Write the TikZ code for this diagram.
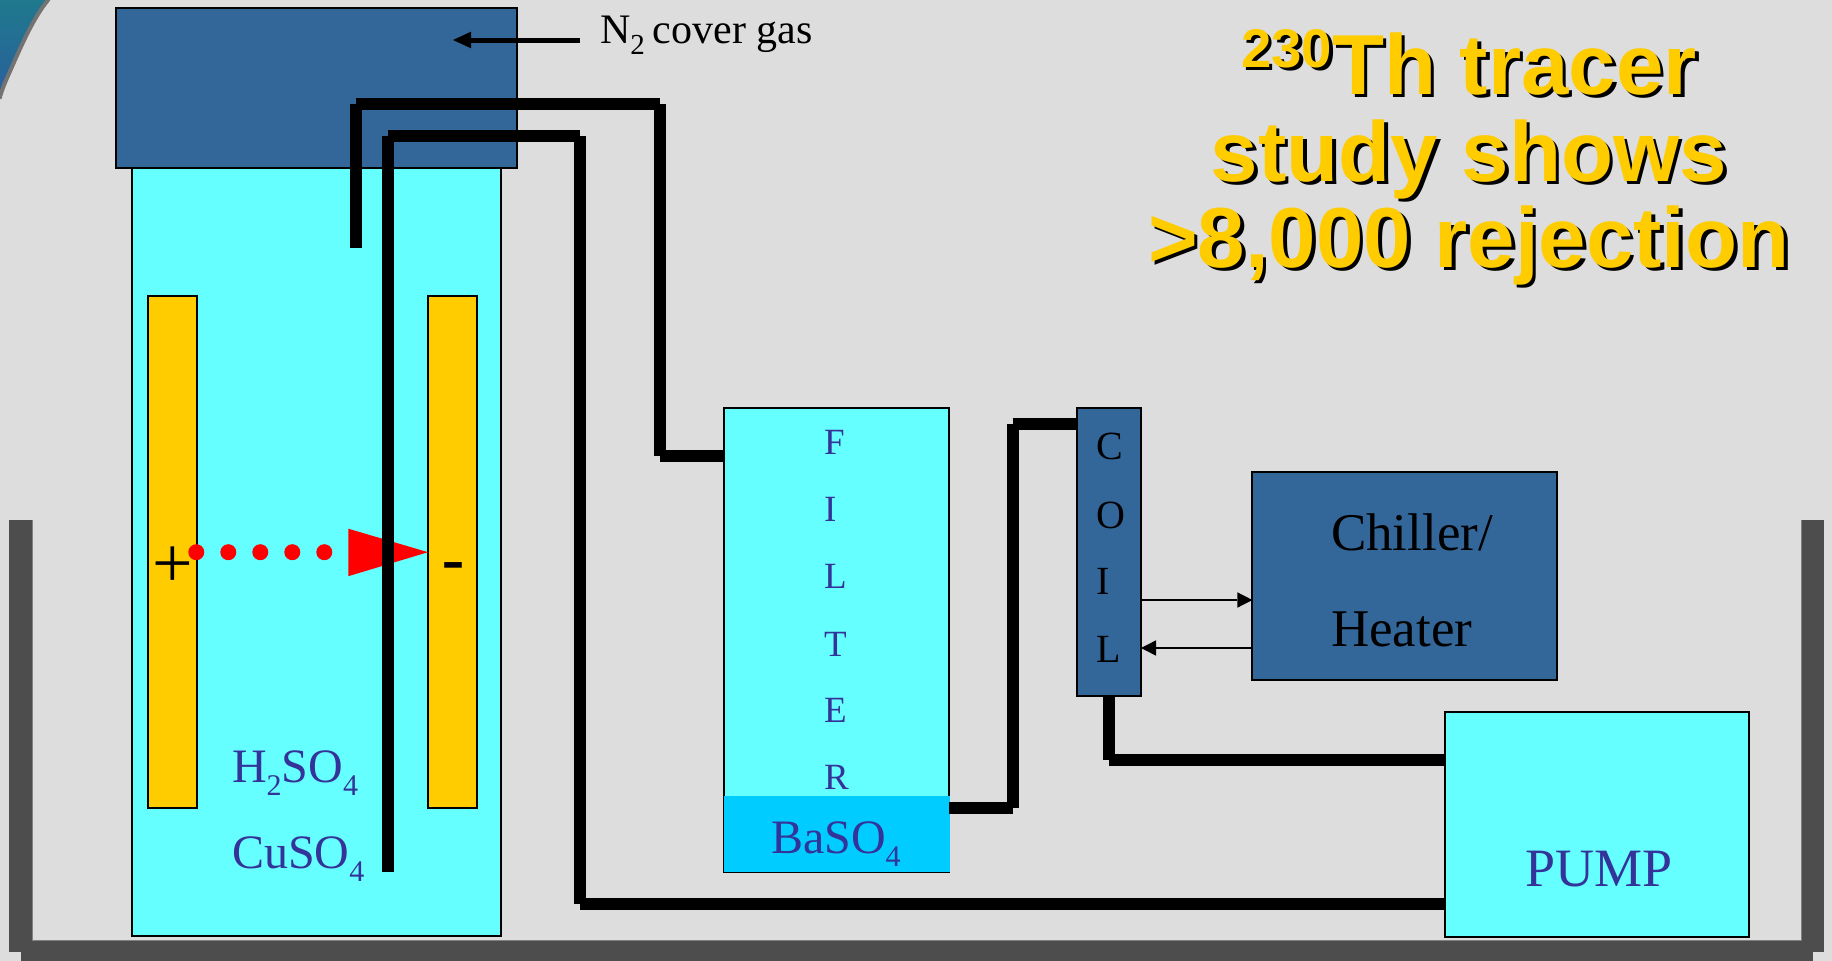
\documentclass[tikz,border=0pt]{standalone}
\usepackage{fontspec}
\setmainfont{Liberation Serif}
\setsansfont{Liberation Sans}
\definecolor{bgc}{HTML}{DDDDDD}
\definecolor{steel}{HTML}{336699}
\definecolor{aqua}{HTML}{66FFFF}
\definecolor{sky}{HTML}{00CCFF}
\definecolor{gold}{HTML}{FFCC00}
\definecolor{ink}{HTML}{333399}
\definecolor{wallc}{HTML}{4D4D4D}
\definecolor{tealA}{HTML}{1E7A8C}
\definecolor{tealB}{HTML}{2A5F9E}
\newcommand{\fs}[1]{\fontsize{#1}{#1}\selectfont}
\newcommand{\dn}[3]{\raisebox{-#1pt}{\fs{#2}#3}}
\newcommand{\titleone}{\raisebox{27pt}{\fs{54.5}230}Th tracer}
\tikzset{
  box/.style={draw=black,line width=2pt,inner sep=0pt,outer sep=0pt},
  lbl/.style={anchor=base west,inner sep=0pt,outer sep=0pt},
  pipe/.style={draw=black,line width=12pt,line cap=butt},
  wall/.style={draw=wallc,line width=23pt,line cap=butt},
  thin arrow/.style={draw=black,line width=1.6pt},
  tip/.style={fill=black,draw=none},
  ion/.style={circle,fill=red,draw=none,minimum size=16pt,inner sep=0pt},
  titletext/.style={anchor=base,inner sep=0pt,font=\sffamily\bfseries\fs{85.2}},
}
\begin{document}
\begin{tikzpicture}[x=1pt,y=-1pt]
\useasboundingbox (0,0) rectangle (1832,961);
\fill[bgc] (0,0) rectangle (1832,961);
% corner of the slide's ornament
\begin{scope}
\clip (0,0) rectangle (1832,961);
\path[top color=tealA,bottom color=tealB,draw=gray!90!black,line width=4pt]
  (-5,-5) -- (50,-5) -- (48,0) .. controls (36,15) and (27,33) .. (15,60)
  .. controls (8,76) and (3,86) .. (0,97) -- (-5,97) -- cycle;
\end{scope}
% bath
\coordinate (wallLtop) at (20.5,520);
\coordinate (wallLbot) at (20.5,951.7);
\coordinate (wallRtop) at (1812.7,520);
\coordinate (wallRbot) at (1812.7,951.7);
\path[wall] (wallLtop) -- (wallLbot);
\path[wall] (wallRtop) -- (wallRbot);
\path[wall] (wallLbot) -- (wallRbot);
\draw[gray,line width=1pt] (32.2,520) -- (32.2,940) -- (1801.2,940) -- (1801.2,520);
% cell
\node[box,fill=aqua,minimum width=368.5pt,minimum height=768pt] (cell) at (316.3,552.2) {};
\node[box,fill=gold,minimum width=48.7pt,minimum height=512.5pt] (anode) at (172.3,552.2) {};
\node[box,fill=gold,minimum width=49pt,minimum height=512.5pt] (cathode) at (452.5,552.2) {};
\node[box,fill=steel,minimum width=401pt,minimum height=160pt] (cover) at (316.5,88) {};
% N2
\coordinate (gasIn) at (580,40);
\coordinate (gasTip) at (453,40);
\draw[black,line width=5pt] (gasIn) -- (470,40);
\fill[black] (gasTip) -- (471,31.7) -- (471,48.3) -- cycle;
\node[lbl,font=\fs{42}] (gas) at (600,43.3) {N\dn{10.7}{29}{2}\hspace{8pt}cover gas};
% ion path
\node[inner sep=0pt,font=\fs{72}] (plus) at (173.3,567.5) {+};
\node[inner sep=0pt,font=\sffamily\fs{72}] (minus) at (453,573.5) {-};
\fill[red] (348.3,528.7) -- (cathode.west |- 0,552.2) -- (348.3,576.2) -- cycle;
\foreach \i/\x in {a/196.3,b/228.3,c/260.3,d/292.3,e/324.3}
  \node[ion] (ion\i) at (\x,552.2) {};
% other units
\node[box,fill=aqua,minimum width=224.3pt,minimum height=464.3pt] (filter) at (836.6,640.2) {};
\fill[sky] (723.5,795.7) rectangle (949.5,871.5) coordinate (bedcorner);
\node[box,fill=steel,minimum width=64pt,minimum height=288pt] (coil) at (1109,552.2) {};
\node[box,fill=steel,minimum width=304.6pt,minimum height=208pt] (chiller) at (1404.7,576.2) {};
\node[box,fill=aqua,minimum width=304.7pt,minimum height=224.7pt] (pump) at (1596.9,824.3) {};
% pipes
\coordinate (suckEnd) at (356,248);
\coordinate (suckBend) at (356,104);
\coordinate (suckTop) at (660,104);
\coordinate (suckLow) at (660,456);
\coordinate (retEnd) at (388.4,872);
\coordinate (retBend) at (388.4,136);
\coordinate (retTop) at (580,136);
\coordinate (retLow) at (580,904);
\coordinate (outA) at (1012.7,808);
\coordinate (outB) at (1012.7,424);
\coordinate (coilDown) at (1108.7,760);
\path[pipe] (suckEnd) -- (suckBend);
\path[pipe] (suckBend) -- (suckTop);
\path[pipe] (suckTop) -- (suckLow);
\path[pipe] (suckLow) -- (suckLow -| filter.west);
\path[pipe] (retEnd) -- (retBend);
\path[pipe] (retBend) -- (retTop);
\path[pipe] (retTop) -- (retLow);
\path[pipe] (retLow) -- (retLow -| pump.west);
\path[pipe] (outA -| filter.east) -- (outA);
\path[pipe] (outA) -- (outB);
\path[pipe] (outB) -- (outB -| coil.west);
\path[pipe] (coil.south -| coilDown) -- (coilDown);
\path[pipe] (coilDown) -- (coilDown -| pump.west);
% coolant arrows
\coordinate (toCh) at (coil.east |- 0,600);
\coordinate (toChE) at (chiller.west |- 0,600);
\coordinate (fromCh) at (chiller.west |- 0,648);
\coordinate (fromChE) at (coil.east |- 0,648);
\draw[thin arrow] (toCh) -- ([xshift=-15pt]toChE);
\fill[tip] (toChE) -- ([xshift=-15pt,yshift=-7.7pt]toChE) -- ([xshift=-15pt,yshift=7.7pt]toChE) -- cycle;
\draw[thin arrow] (fromCh) -- ([xshift=15pt]fromChE);
\fill[tip] (fromChE) -- ([xshift=15pt,yshift=-7.7pt]fromChE) -- ([xshift=15pt,yshift=7.7pt]fromChE) -- cycle;
% labels
\node[lbl,text=ink,font=\fs{48}] (acid) at (232,782) {H\dn{13}{30}{2}SO\dn{13}{30}{4}};
\node[lbl,text=ink,font=\fs{48}] (salt) at (232,868.7) {CuSO\dn{13}{30}{4}};
\foreach \n/\t/\y in {f/F/454.3,i/I/521.7,l/L/588.7,t/T/656,e/E/722.7,r/R/789.3}
  \node[lbl,text=ink,font=\fs{37}] (filt\n) at (824,\y) {\t};
\node[lbl,text=ink,font=\fs{48}] (bed) at (771,853.2) {BaSO\dn{13}{30}{4}};
\foreach \n/\t/\y in {c/C/459.5,o/O/528,i/I/594.5,l/L/662}
  \node[lbl,text=black,font=\fs{40}] (coil\n) at (1096,\y) {\t};
\node[lbl,font=\fs{53}] (chA) at (1331,550.3) {Chiller/};
\node[lbl,font=\fs{53}] (chB) at (1331,646) {Heater};
\node[lbl,text=ink,font=\fs{54}] (pumpl) at (1525,886) {PUMP};
% title with its shadow
\foreach \n/\t/\y in {a/\titleone/94.7,b/study shows/181.2,c/>8{,}000 rejection/267.7}{
  \node[titletext,text=black] (sh\n) at (1472.5,\y+3) {\t};
  \node[titletext,text=gold] (ti\n) at (1469,\y) {\t};
}
\end{tikzpicture}
\end{document}
